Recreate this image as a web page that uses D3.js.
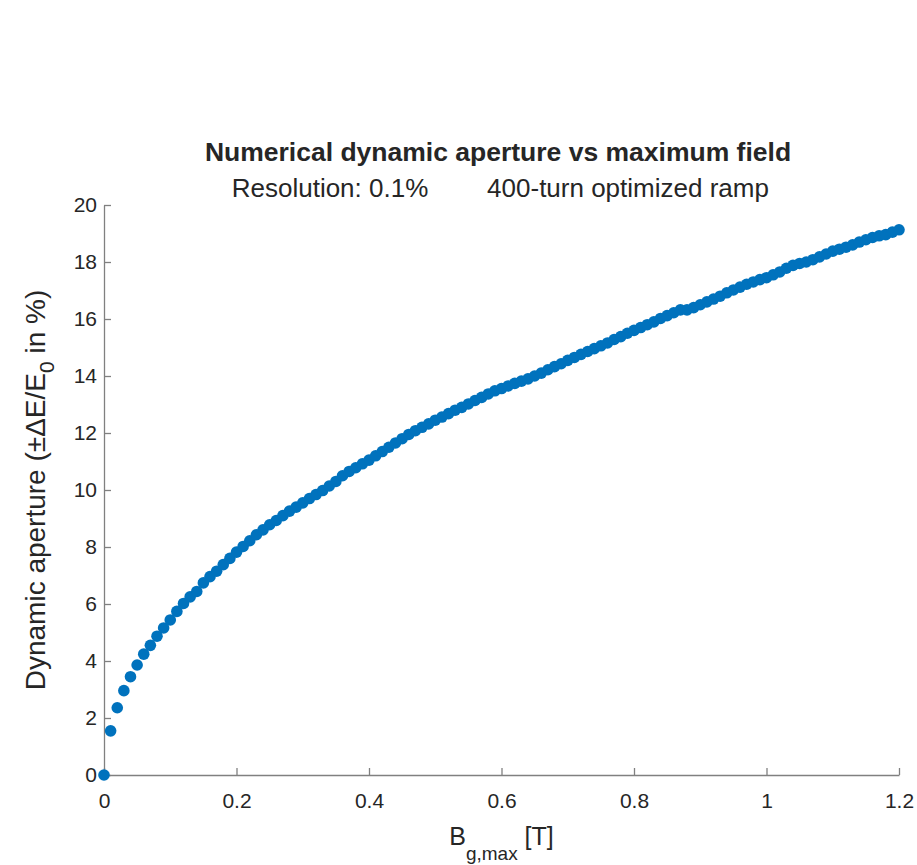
<!DOCTYPE html>
<html>
<head>
<meta charset="utf-8">
<script src="https://cdn.jsdelivr.net/npm/d3@7"></script>
<style>
	body { margin: 0; background: #fff; }
	svg text { font-family: "Liberation Sans", Arial, Helvetica, sans-serif; fill: #262626; }
</style>
</head>
<body>
<div id="chart"></div>
<script>
// B_g,max [T]
const fieldValues = [
	0.00, 0.01, 0.02, 0.03, 0.04, 0.05, 0.06, 0.07, 0.08, 0.09,
	0.10, 0.11, 0.12, 0.13, 0.14, 0.15, 0.16, 0.17, 0.18, 0.19,
	0.20, 0.21, 0.22, 0.23, 0.24, 0.25, 0.26, 0.27, 0.28, 0.29,
	0.30, 0.31, 0.32, 0.33, 0.34, 0.35, 0.36, 0.37, 0.38, 0.39,
	0.40, 0.41, 0.42, 0.43, 0.44, 0.45, 0.46, 0.47, 0.48, 0.49,
	0.50, 0.51, 0.52, 0.53, 0.54, 0.55, 0.56, 0.57, 0.58, 0.59,
	0.60, 0.61, 0.62, 0.63, 0.64, 0.65, 0.66, 0.67, 0.68, 0.69,
	0.70, 0.71, 0.72, 0.73, 0.74, 0.75, 0.76, 0.77, 0.78, 0.79,
	0.80, 0.81, 0.82, 0.83, 0.84, 0.85, 0.86, 0.87, 0.88, 0.89,
	0.90, 0.91, 0.92, 0.93, 0.94, 0.95, 0.96, 0.97, 0.98, 0.99,
	1.00, 1.01, 1.02, 1.03, 1.04, 1.05, 1.06, 1.07, 1.08, 1.09,
	1.10, 1.11, 1.12, 1.13, 1.14, 1.15, 1.16, 1.17, 1.18, 1.19,
	1.20
];

// dynamic aperture, +-dE/E0 in %
const apertureValues = [
	0.00, 1.55, 2.36, 2.96, 3.45, 3.86, 4.24, 4.55, 4.87, 5.16,
	5.44, 5.74, 6.02, 6.25, 6.44, 6.74, 6.96, 7.15, 7.38, 7.60,
	7.82, 8.02, 8.22, 8.43, 8.60, 8.78, 8.93, 9.10, 9.26, 9.40,
	9.55, 9.70, 9.84, 9.98, 10.14, 10.30, 10.50, 10.65, 10.78, 10.92,
	11.05, 11.20, 11.35, 11.50, 11.65, 11.80, 11.95, 12.08, 12.20, 12.32,
	12.45, 12.56, 12.68, 12.80, 12.90, 13.02, 13.14, 13.25, 13.37, 13.48,
	13.56, 13.65, 13.74, 13.82, 13.90, 14.00, 14.10, 14.22, 14.33, 14.43,
	14.55, 14.65, 14.76, 14.86, 14.96, 15.06, 15.16, 15.28, 15.38, 15.50,
	15.60, 15.70, 15.80, 15.90, 16.02, 16.12, 16.22, 16.32, 16.32, 16.40,
	16.50, 16.60, 16.70, 16.80, 16.92, 17.02, 17.12, 17.22, 17.30, 17.38,
	17.45, 17.55, 17.65, 17.78, 17.88, 17.95, 18.00, 18.08, 18.18, 18.28,
	18.38, 18.45, 18.52, 18.60, 18.70, 18.78, 18.86, 18.92, 18.96, 19.05,
	19.13
];

const xTicks = [0, 0.2, 0.4, 0.6, 0.8, 1, 1.2];
const yTicks = [0, 2, 4, 6, 8, 10, 12, 14, 16, 18, 20];

const options = {
	width: 917,
	height: 865,
	margin: { top: 205, right: 18, bottom: 90, left: 104 }
};

let data = fieldValues.map((x, i) => ({ x: x, y: apertureValues[i] }));

let innerW = options.width - options.margin.left - options.margin.right;
let innerH = options.height - options.margin.top - options.margin.bottom;

let scale = {
	x: d3.scaleLinear().domain([0, 1.2]).range([0, innerW]),
	y: d3.scaleLinear().domain([0, 20]).range([innerH, 0])
};

let svg = d3.select("#chart").append("svg")
	.attr("width", options.width)
	.attr("height", options.height)
	.attr("viewBox", `0 0 ${options.width} ${options.height}`);

let g = svg.append("g")
	.attr("transform", `translate(${options.margin.left}, ${options.margin.top})`);

// axes: ticks point inward like matlab
let xAxis = g.append("g")
	.attr("class", "axis x")
	.attr("transform", `translate(0, ${innerH})`)
	.call(d3.axisBottom(scale.x).tickValues(xTicks).tickSizeInner(-7).tickSizeOuter(0).tickPadding(18)
		.tickFormat(d => d3.format("")(d)));

let yAxis = g.append("g")
	.attr("class", "axis y")
	.call(d3.axisLeft(scale.y).tickValues(yTicks).tickSizeInner(-7).tickSizeOuter(0).tickPadding(7));

g.selectAll(".axis path, .axis line")
	.attr("stroke", "#808080")
	.attr("stroke-width", 1.3);

g.selectAll(".axis text")
	.attr("font-size", 21)
	.attr("fill", "#262626")
	.style("font-family", "'Liberation Sans', Arial, sans-serif");

xAxis.selectAll("text").attr("dy", "0.71em");

// points
g.append("g")
	.attr("class", "points")
	.selectAll("circle")
	.data(data)
	.enter().append("circle")
	.attr("cx", d => scale.x(d.x))
	.attr("cy", d => scale.y(d.y))
	.attr("r", 5.8)
	.attr("fill", "#0072BD");

// titles
svg.append("text")
	.attr("x", 498)
	.attr("y", 161)
	.attr("text-anchor", "middle")
	.attr("font-size", 26.5)
	.attr("font-weight", "bold")
	.attr("fill", "#000")
	.text("Numerical dynamic aperture vs maximum field");

svg.append("text")
	.attr("x", 330)
	.attr("y", 197)
	.attr("text-anchor", "middle")
	.attr("font-size", 26)
	.attr("fill", "#000")
	.text("Resolution: 0.1%");

svg.append("text")
	.attr("x", 628)
	.attr("y", 197)
	.attr("text-anchor", "middle")
	.attr("font-size", 26)
	.attr("fill", "#000")
	.text("400-turn optimized ramp");

// x label with subscript
let xl = svg.append("text")
	.attr("x", options.margin.left + scale.x(0.6))
	.attr("y", 845)
	.attr("text-anchor", "middle")
	.attr("font-size", 25);
xl.append("tspan").text("B");
xl.append("tspan").attr("font-size", 19).attr("dy", 15).text("g,max");
xl.append("tspan").attr("dy", -15).text(" [T]");

// y label
let yl = svg.append("text")
	.attr("transform", `translate(45, ${options.margin.top + scale.y(10)}) rotate(-90)`)
	.attr("text-anchor", "middle")
	.attr("font-size", 28);
yl.append("tspan").text("Dynamic aperture (\u00B1\u0394E/E");
yl.append("tspan").attr("font-size", 21).attr("dy", 9).text("0");
yl.append("tspan").attr("dy", -9).text(" in %)");
</script>
</body>
</html>
